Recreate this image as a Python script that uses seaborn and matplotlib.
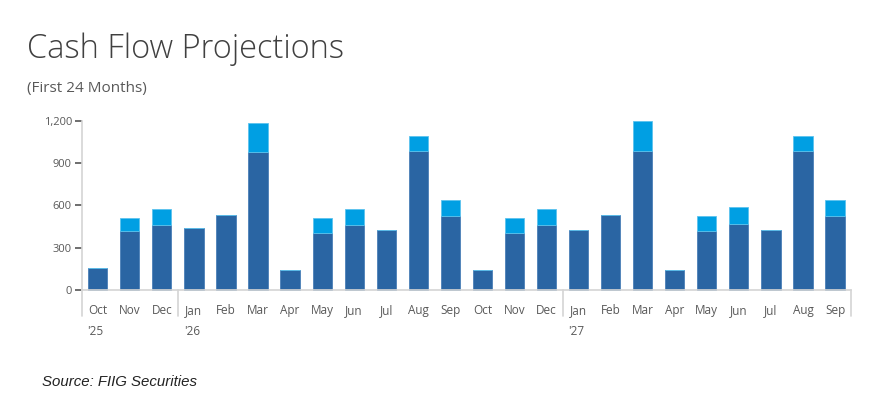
import matplotlib
matplotlib.use("Agg")
import matplotlib.pyplot as plt
import matplotlib.transforms as mtransforms
import numpy as np
import pandas as pd
import seaborn as sns

## ===================== data =====================

months = ["Oct", "Nov", "Dec", "Jan", "Feb", "Mar", "Apr", "May", "Jun", "Jul", "Aug", "Sep",
          "Oct", "Nov", "Dec", "Jan", "Feb", "Mar", "Apr", "May", "Jun", "Jul", "Aug", "Sep"]
years = {0: "'25", 3: "'26", 15: "'27"}
base_flow = [155, 418, 461, 437, 532, 976, 142, 406, 461, 425, 985, 522,
             142, 406, 461, 425, 532, 985, 142, 418, 470, 425, 985, 522]
extra_flow = [0, 95, 113, 0, 0, 208, 0, 104, 113, 0, 105, 116,
              0, 104, 113, 0, 0, 211, 0, 104, 116, 0, 105, 116]

dark = "#2a65a3"
light = "#009fe3"
grey_line = "#d4d4d4"
text_col = "#595959"

df = pd.DataFrame({"pos": range(len(months)), "base": base_flow, "extra": extra_flow})

## ===================== draw =====================

sns.set_theme(style="white")
plt.rcParams["font.family"] = ["Open Sans", "DejaVu Sans"]

fig = plt.figure(figsize=(8.91, 4.17), dpi=100)
ax = fig.add_axes([0.0917, 0.3046, 0.8635, 0.406])

sns.barplot(data=df, x="pos", y="base", color=dark, saturation=1, width=0.6, ax=ax,
            edgecolor="#4a7fb8", linewidth=0.6)
sns.barplot(data=df, x="pos", y="extra", bottom=df["base"], color=light, saturation=1,
            width=0.6, ax=ax, edgecolor="#5cc3ee", linewidth=0.6)

ax.set_xlim(-0.5, len(months) - 0.5)
ax.set_ylim(0, 1200)
ax.set_yticks([0, 300, 600, 900, 1200])
ax.set_yticklabels(["0", "300", "600", "900", "1,200"])
ax.set_xticks(range(len(months)))
ax.set_xticklabels(months)
ax.set_xlabel("")
ax.set_ylabel("")
for b in ax.patches:
    b.set_clip_on(False)

for s in ["top", "right"]:
    ax.spines[s].set_visible(False)
ax.spines["left"].set_color(grey_line)
ax.spines["bottom"].set_color(grey_line)
ax.spines["left"].set_linewidth(1.2)
ax.spines["bottom"].set_linewidth(1.2)
ax.tick_params(axis="y", left=True, length=5, width=1.2, color="#555555",
               labelsize=8, labelcolor=text_col, pad=2)
ax.tick_params(axis="x", bottom=False, labelsize=8.5, labelcolor=text_col, pad=4)

# category separators below the axis
trans = mtransforms.blended_transform_factory(ax.transData, ax.transAxes)
for xs in [-0.5, 2.5, 14.5, 23.5]:
    ax.plot([xs, xs], [0, -0.155], transform=trans, color=grey_line, lw=1.2, clip_on=False)
for i, yr in years.items():
    ax.text(i - 0.32, -0.245, yr, transform=trans, ha="left", va="center",
            fontsize=8.5, color=text_col)

fig.text(0.030, 0.862, "Cash Flow Projections", fontsize=23.5, fontweight="light",
         color="#404040", ha="left", va="baseline")
fig.text(0.030, 0.780, "(First 24 Months)", fontsize=11, color=text_col,
         ha="left", va="baseline")
fig.text(0.047, 0.074, "Source: FIIG Securities", fontsize=10.8, style="italic",
         family="Liberation Sans", color="#222222", ha="left", va="baseline")

fig.savefig("out.png", dpi=100)
